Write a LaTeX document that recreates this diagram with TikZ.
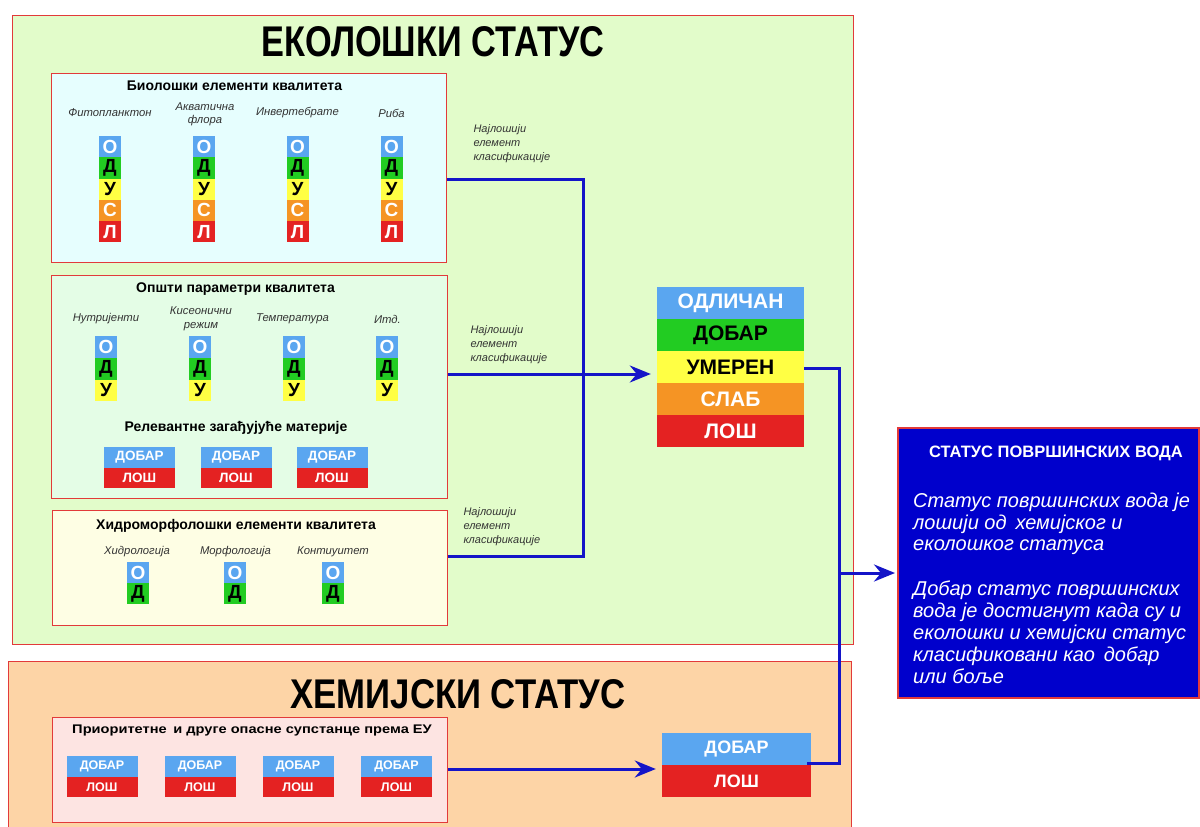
\documentclass[tikz,border=0pt]{standalone}
\usepackage{fontspec}
\setmainfont{Liberation Sans}
\usepackage{graphicx}
\usetikzlibrary{arrows.meta}
\definecolor{ecoF}{HTML}{E2FCCA}
\definecolor{bioF}{HTML}{E6FEFE}
\definecolor{genF}{HTML}{E4FDE6}
\definecolor{hydF}{HTML}{FEFEE4}
\definecolor{chemF}{HTML}{FDD4A6}
\definecolor{chinF}{HTML}{FDE4E2}
\definecolor{bordR}{HTML}{E23A3A}
\definecolor{cBlue}{HTML}{5AA6F0}
\definecolor{cGreen}{HTML}{22CC22}
\definecolor{cYellow}{HTML}{FFFF44}
\definecolor{cOrange}{HTML}{F59424}
\definecolor{cRed}{HTML}{E42222}
\definecolor{connB}{HTML}{1414C8}
\definecolor{statB}{HTML}{0000CC}
\newcommand\fsz[1]{\fontsize{#1}{#1}\selectfont}
\newcommand\fszl[2]{\fontsize{#1}{#2}\selectfont}
\tikzset{
 panel/.style={draw=bordR, line width=1.3pt, inner sep=0pt, anchor=north west},
 cell/.style={minimum width=22pt, inner sep=0pt, anchor=north, font=\bfseries\fsz{19}},
 lbl/.style={font=\itshape\fszl{11.3}{13.5}, align=center, text=black!80},
 ttl/.style={font=\bfseries\fsz{14}},
 pair/.style={minimum width=71pt, minimum height=20.5pt, inner sep=0pt, anchor=north, font=\bfseries\fsz{13.5}},
 conn/.style={draw=connB, line width=3pt},
 arrowhd/.style={-{Stealth[length=21pt,width=17pt,inset=7pt]}},
 rrow/.style={minimum width=147pt, minimum height=32pt, inner sep=0pt, anchor=north, font=\bfseries\fsz{21}},
 cnote/.style={font=\itshape\fszl{11}{14}, align=left, anchor=west, text=black!80},
 stext/.style={font=\itshape\fsz{20}, text=white, anchor=base west, inner sep=0pt},
}
\begin{document}
\begin{tikzpicture}[x=1pt,y=-1pt]
\useasboundingbox (0,0) rectangle (1200,827);
\fill[white] (0,0) rectangle (1200,827);
% panels
\node[panel, fill=ecoF, minimum width=841pt, minimum height=629pt] (eco) at (12,15) {};
\node[panel, fill=chemF, minimum width=843pt, minimum height=190pt] (chem) at (8,661) {};
\node[panel, fill=bioF, minimum width=395pt, minimum height=189pt] (bio) at (51,73) {};
\node[panel, fill=genF, minimum width=396pt, minimum height=223pt] (gen) at (51,275) {};
\node[panel, fill=hydF, minimum width=395pt, minimum height=115pt] (hyd) at (52,510) {};
\node[panel, fill=chinF, minimum width=395pt, minimum height=105pt] (chin) at (52,717) {};
% big titles
\node (ecot) at (433,42) {\resizebox{343pt}{30pt}{\bfseries ЕКОЛОШКИ СТАТУС}};
\node (chemt) at (458,694) {\resizebox{335pt}{29pt}{\bfseries ХЕМИЈСКИ СТАТУС}};
% biological
\node[ttl] (biot) at (234.5,86) {Биолошки елементи квалитета};
\node[lbl] (bl1) at (110,113) {Фитопланктон};
\node[lbl] (bl2) at (205,114.5) {Акватична\\флора};
\node[lbl] (bl3) at (297.5,113) {Инвертебрате};
\node[lbl] (bl4) at (391.5,113) {Риба};
\foreach \x [count=\i] in {110,204,297.5,391.5}
 \foreach \l/\fc/\tc [count=\j] in {О/cBlue/white,Д/cGreen/black,У/cYellow/black,С/cOrange/white,Л/cRed/white}
  \node[cell, minimum height=21.2pt, fill=\fc, text=\tc] (b\i\j) at (\x,136+21.2*\j-21.2) {\l};
% general
\node[ttl] (gent) at (235.5,289) {Општи параметри квалитета};
\node[lbl] (gl1) at (106,319) {Нутријенти};
\node[lbl] (gl2) at (201,319) {Кисеонични\\режим};
\node[lbl] (gl3) at (292.5,319) {Температура};
\node[lbl] (gl4) at (387.5,319) {Итд.};
\foreach \x [count=\i] in {106,200,294,387}
 \foreach \l/\fc/\tc [count=\j] in {О/cBlue/white,Д/cGreen/black,У/cYellow/black}
  \node[cell, minimum height=21.7pt, fill=\fc, text=\tc] (g\i\j) at (\x,336+21.7*\j-21.7) {\l};
\node[ttl] (relt) at (236,428) {Релевантне загађујуће материје};
\foreach \x [count=\i] in {139.5,236,332} {
  \node[pair, fill=cBlue, text=white] (rd\i) at (\x,447) {ДОБАР};
  \node[pair, fill=cRed, text=white] (rl\i) at (\x,467.5) {ЛОШ};
}
% hydro
\node[ttl] (hydt) at (236,526) {Хидроморфолошки елементи квалитета};
\node[lbl] (hl1) at (137,552) {Хидрологија};
\node[lbl] (hl2) at (235.5,552) {Морфологија};
\node[lbl] (hl3) at (333,552) {Контиуитет};
\foreach \x [count=\i] in {138,235,333}
 \foreach \l/\fc/\tc [count=\j] in {О/cBlue/white,Д/cGreen/black}
  \node[cell, minimum height=21pt, fill=\fc, text=\tc] (h\i\j) at (\x,562+21*\j-21) {\l};
% chemical inner
\node[font=\bfseries\fsz{12.5}] (chint) at (252,730) {\scalebox{1.17}[1]{Приоритетне\, и друге опасне супстанце према ЕУ}};
\foreach \x [count=\i] in {102,200,298,396.5} {
  \node[pair, fill=cBlue, text=white, font=\bfseries\fsz{12.5}] (cd\i) at (\x,756) {ДОБАР};
  \node[pair, fill=cRed, text=white, font=\bfseries\fsz{12.5}] (cl\i) at (\x,776.5) {ЛОШ};
}
% result table
\foreach \l/\fc/\tc [count=\j] in {ОДЛИЧАН/cBlue/white,ДОБАР/cGreen/black,УМЕРЕН/cYellow/black,СЛАБ/cOrange/white,ЛОШ/cRed/white}
  \node[rrow, fill=\fc, text=\tc] (r\j) at (730.5,287+32*\j-32) {\l};
% chemical result
\node[rrow, minimum width=149pt, fill=cBlue, text=white, font=\bfseries\fsz{18}] (crd) at (736.5,733) {ДОБАР};
\node[rrow, minimum width=149pt, fill=cRed, text=white, font=\bfseries\fsz{18}] (crl) at (736.5,765) {ЛОШ};
% status box
\node[panel, draw=bordR, line width=2pt, fill=statB, minimum width=301pt, minimum height=270pt] (stat) at (897,427) {};
\node[font=\bfseries\fsz{16.5}, text=white] (statt) at (1056,453) {СТАТУС ПОВРШИНСКИХ ВОДА};
\node[stext] (s1) at (913,507) {Статус површинских вода је};
\node[stext] (s2) at (913,529) {лошији од\, хемијског и};
\node[stext] (s3) at (913,550) {еколошког статуса};
\node[stext] (s4) at (913,595) {Добар статус површинских};
\node[stext] (s5) at (913,617) {вода је достигнут када су и};
\node[stext] (s6) at (913,639) {еколошки и хемијски статус};
\node[stext] (s7) at (913,661) {класификовани као\, добар};
\node[stext] (s8) at (913,683) {или боље};
% connector labels
\node[cnote] (n1) at (470,144) {Најлошији\\елемент\\класификације};
\node[cnote] (n2) at (467,345) {Најлошији\\елемент\\класификације};
\node[cnote] (n3) at (460,527) {Најлошији\\елемент\\класификације};
% connectors
\coordinate (j1) at (583,179);
\coordinate (j2) at (583,374);
\coordinate (j3) at (583,556);
\draw[conn] (bio.east |- j1) -- (j1) -- (j3) -- (hyd.east |- j3);
\draw[conn, arrowhd, shorten >=6pt] (gen.east |- j2) -- (j2 -| r3.west);
\coordinate (k1) at (839,368);
\coordinate (k2) at (839,573);
\coordinate (k3) at (839,763);
\draw[conn] (r3.east |- k1) -- (k1) -- (k3) -- ([xshift=-4pt]crd.east |- k3);
\draw[conn, arrowhd, shorten >=2pt] (k2) -- (stat.west |- k2);
\coordinate (m1) at (447,769);
\draw[conn, arrowhd, shorten >=6pt] (chin.east |- m1) -- (m1 -| crd.west);
\end{tikzpicture}
\end{document}
